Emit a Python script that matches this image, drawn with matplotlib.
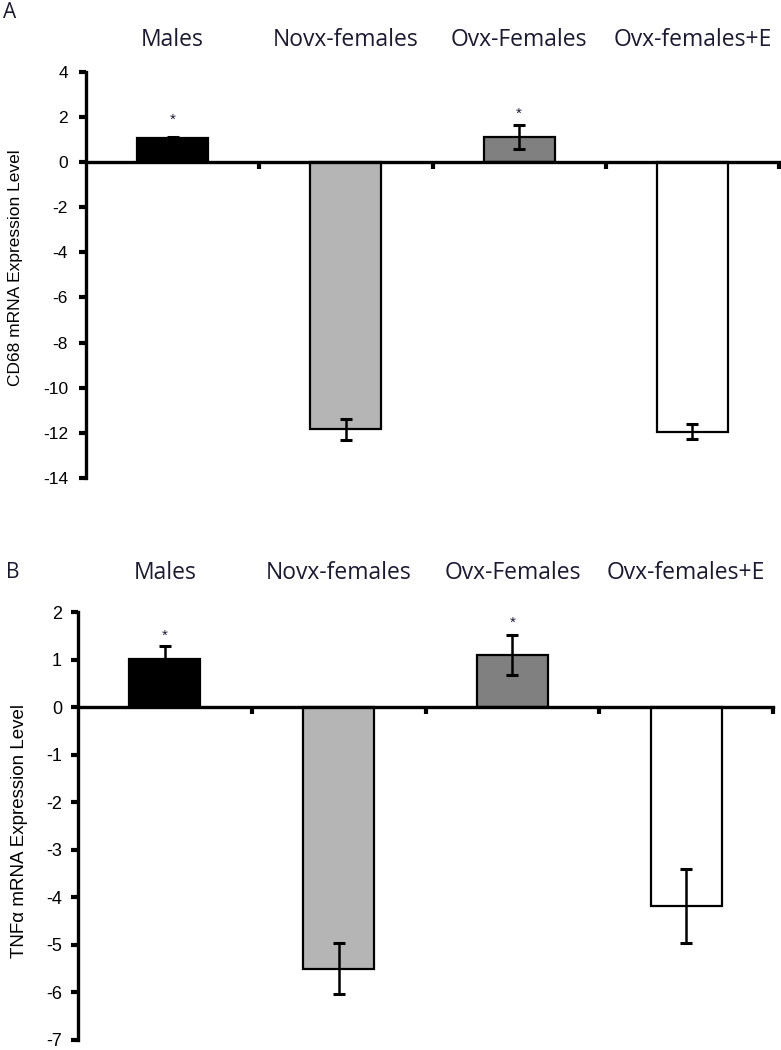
import matplotlib
matplotlib.use('Agg')
import matplotlib.pyplot as plt
from matplotlib.transforms import blended_transform_factory

groups = ['Males', 'Novx-females', 'Ovx-Females', 'Ovx-females+E']
colors = ['black', '#b5b5b5', '#808080', 'white']

cd68_mean = [1.05, -11.85, 1.1, -11.95]
cd68_err = [0.07, 0.47, 0.55, 0.32]
cd68_star = [1.85, None, 2.15, None]

tnf_mean = [1.02, -5.5, 1.1, -4.18]
tnf_err = [0.27, 0.53, 0.42, 0.77]
tnf_star = [1.5, None, 1.78, None]

W, H = 781, 1050
fig = plt.figure(figsize=(W / 100, H / 100), dpi=100)

label_font = 'Open Sans'
tick_font = 'Liberation Sans'


def px(x, y):
    # pixel position -> figure fraction
    return x / W, 1 - y / H


def panel(rect, mean, err, star, ylim, yticks, tick_size, tick_pad, label_y):
    ax = fig.add_axes(rect)
    x = [i + 0.5 for i in range(len(mean))]
    ax.bar(x, mean, width=0.41, color=colors, edgecolor='black', linewidth=1.6, zorder=2)
    ax.errorbar(x, mean, yerr=err, fmt='none', ecolor='black', elinewidth=1.8,
                capsize=4, capthick=2.2, zorder=3)
    for xi, s in zip(x, star):
        if s is not None:
            ax.text(xi, s, '*', ha='center', va='center', fontsize=11,
                    family=tick_font, color='#1a1a3a')
    ax.set_xlim(0, 4)
    ax.set_ylim(*ylim)
    ax.set_yticks(yticks)
    ax.set_yticklabels([str(t) for t in yticks], family=tick_font, fontsize=tick_size)
    ax.set_xticks([1, 2, 3, 4])
    ax.set_xticklabels([])
    for sp in ['top', 'right']:
        ax.spines[sp].set_visible(False)
    ax.spines['bottom'].set_position(('data', 0))
    ax.spines['left'].set_linewidth(2.4)
    ax.spines['bottom'].set_linewidth(2.4)
    ax.tick_params(axis='y', direction='out', length=5, width=3, pad=tick_pad)
    ax.tick_params(axis='x', direction='out', length=5, width=3)
    # category names above the plot
    tr = blended_transform_factory(ax.transData, fig.transFigure)
    for xi, g in zip(x, groups):
        ax.text(xi, px(0, label_y)[1], g, transform=tr, ha='center', va='center',
                family=label_font, fontsize=16.5, color='#1a1a33')
    return ax


top_rect = [86 / W, 1 - 478 / H, (779 - 86) / W, (478 - 71.6) / H]
panel(top_rect, cd68_mean, cd68_err, cd68_star, (-14, 4), list(range(-14, 5, 2)), 12.5, 8, 40)

bot_rect = [78 / W, 1 - 1040 / H, (773 - 78) / W, (1040 - 612) / H]
panel(bot_rect, tnf_mean, tnf_err, tnf_star, (-7, 2), list(range(-7, 3)), 13, 6.5, 573)

fig.text(*px(16, 268), 'CD68 mRNA Expression Level', rotation=90, ha='center',
         va='center', family=tick_font, fontsize=12.5)
fig.text(*px(20, 831), 'TNF\u03b1 mRNA Expression Level', rotation=90, ha='center',
         va='center', family=tick_font, fontsize=13.5)

fig.text(*px(3, 13), 'A', family=label_font, fontsize=15, color='#1a1a33', va='center')
fig.text(*px(6, 572), 'B', family=label_font, fontsize=15, color='#1a1a33', va='center')

fig.savefig('out.png', dpi=100)
